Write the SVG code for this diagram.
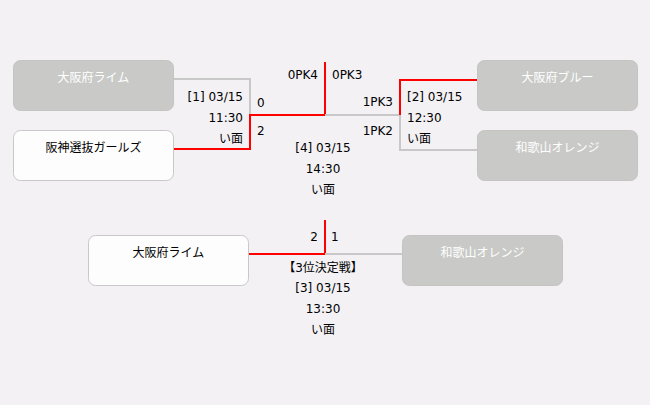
<svg xmlns="http://www.w3.org/2000/svg" width="650" height="405" viewBox="0 0 650 405">
<style>
.bg{fill:#f3f1f4}
.lose rect{fill:#c9cac7;stroke:#c4c5c2;stroke-width:1}
.win rect{fill:#fdfdfd;stroke:#c8c8c8;stroke-width:1}
text{font-family:"DejaVu Sans","Noto Sans CJK JP",sans-serif;font-size:12px;dominant-baseline:central}
.lose text{fill:#ffffff;text-anchor:middle}
.win text{fill:#000;text-anchor:middle}
.lbl{fill:#000}
.r{stroke:#ff0000;stroke-width:2;fill:none}
.g{stroke:#c8c8c8;stroke-width:2;fill:none}
.m{text-anchor:middle}
.e{text-anchor:end}
</style>
<rect class="bg" x="0" y="0" width="650" height="405"/>
<g id="connectors">
<polyline class="g" points="174,79 250,79 250,115"/>
<polyline class="r" points="174,149 250,149 250,115 325,115 325,62"/>
<polyline class="g" points="325,115 400,115"/>
<polyline class="r" points="400,115 400,80 477,80"/>
<polyline class="g" points="400,115 400,150 477,150"/>
<polyline class="r" points="249,254 325,254 325,220"/>
<polyline class="g" points="325,254 402,254"/>
</g>
<g id="n1" class="lose"><rect x="13.5" y="60.5" width="160" height="50" rx="7"/><text x="93.5" y="78">大阪府ライム</text></g>
<g id="n2" class="win"><rect x="13.5" y="130.5" width="160" height="50" rx="7"/><text x="93.5" y="148">阪神選抜ガールズ</text></g>
<g id="n3" class="lose"><rect x="477.5" y="60.5" width="160" height="50" rx="7"/><text x="557.5" y="78">大阪府ブルー</text></g>
<g id="n4" class="lose"><rect x="477.5" y="130.5" width="160" height="50" rx="7"/><text x="557.5" y="148">和歌山オレンジ</text></g>
<g id="n5" class="win"><rect x="88.5" y="235.5" width="160" height="50" rx="7"/><text x="168.5" y="253">大阪府ライム</text></g>
<g id="n6" class="lose"><rect x="402.5" y="235.5" width="160" height="50" rx="7"/><text x="482.5" y="253">和歌山オレンジ</text></g>
<g id="labels">
<text class="lbl e" x="318" y="75">0PK4</text>
<text class="lbl" x="332" y="75">0PK3</text>
<text class="lbl e" x="243" y="97">[1] 03/15</text>
<text class="lbl e" x="243" y="118">11:30</text>
<text class="lbl e" x="243" y="139">い面</text>
<text class="lbl" x="257" y="103">0</text>
<text class="lbl" x="257" y="131">2</text>
<text class="lbl e" x="393" y="102">1PK3</text>
<text class="lbl e" x="393" y="131">1PK2</text>
<text class="lbl" x="407" y="97">[2] 03/15</text>
<text class="lbl" x="407" y="118">12:30</text>
<text class="lbl" x="407" y="139">い面</text>
<text class="lbl m" x="323" y="148">[4] 03/15</text>
<text class="lbl m" x="323" y="169">14:30</text>
<text class="lbl m" x="323" y="190">い面</text>
<text class="lbl e" x="318" y="237">2</text>
<text class="lbl" x="331" y="237">1</text>
<text class="lbl m" x="323" y="268">【3位決定戦】</text>
<text class="lbl m" x="323" y="288">[3] 03/15</text>
<text class="lbl m" x="323" y="309">13:30</text>
<text class="lbl m" x="323" y="330">い面</text>
</g>
</svg>
